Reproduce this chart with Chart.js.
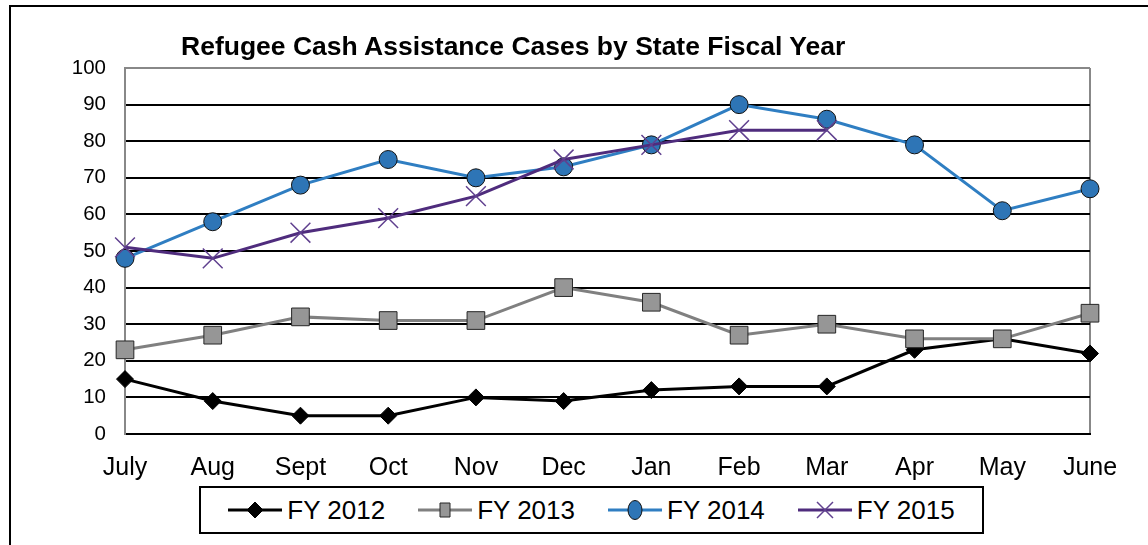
<!DOCTYPE html>
<html>
<head>
<meta charset="utf-8">
<script src="https://cdn.jsdelivr.net/npm/chart.js@4/dist/chart.umd.min.js"></script>
<style>
  html, body { margin: 0; padding: 0; background: #fff; overflow: hidden; }
  body { width: 1148px; height: 545px; position: relative; font-family: "Liberation Sans", Arial, sans-serif; }
  #frame { position: absolute; left: 9px; top: 5px; width: 1300px; height: 700px; border: 2px solid #000; box-sizing: border-box; }
  #c { position: absolute; left: 0; top: 0; }
  #title { position: absolute; left: 181px; top: 33px; font-weight: bold; font-size: 26.5px; line-height: 26px; white-space: nowrap; color: #000; }
  #legend { position: absolute; left: 199px; top: 486px; width: 785px; height: 48px; border: 2px solid #000; box-sizing: border-box; background: #fff;
            display: flex; align-items: center; justify-content: center; column-gap: 33px; }
  .item { display: flex; align-items: center; }
  .item canvas { display: block; margin-right: 5px; }
  .item span { font-size: 26px; line-height: 26px; white-space: nowrap; color: #000; }
</style>
</head>
<body>
<div id="frame"></div>
<canvas id="c" width="1148" height="545"></canvas>
<div id="title"></div>
<div id="legend"></div>
<script>
const titleText = "Refugee Cash Assistance Cases by State Fiscal Year";
const months = ["July", "Aug", "Sept", "Oct", "Nov", "Dec", "Jan", "Feb", "Mar", "Apr", "May", "June"];
const seriesNames = ["FY 2012", "FY 2013", "FY 2014", "FY 2015"];
const fy2012 = [15, 9, 5, 5, 10, 9, 12, 13, 13, 23, 26, 22];
const fy2013 = [23, 27, 32, 31, 31, 40, 36, 27, 30, 26, 26, 33];
const fy2014 = [48, 58, 68, 75, 70, 73, 79, 90, 86, 79, 61, 67];
const fy2015 = [51, 48, 55, 59, 65, 75, 79, 83, 83, null, null, null];
const yTicks = [0, 10, 20, 30, 40, 50, 60, 70, 80, 90, 100];

const styles = [
  { line: "#000000", fill: "#000000", stroke: "#000000", sw: 1, shape: "rectRot", r: 8.5, lw: 3 },
  { line: "#808080", fill: "#969696", stroke: "#262626", sw: 1, shape: "rect", r: 12.5, lw: 3 },
  { line: "#2F7EC2", fill: "#2E75B6", stroke: "#111111", sw: 1, shape: "circle", r: 9, lw: 3 },
  { line: "#4F2C7D", fill: "rgba(0,0,0,0)", stroke: "#60408F", sw: 1.5, shape: "crossRot", r: 14, lw: 3 }
];
const values = [fy2012, fy2013, fy2014, fy2015];

document.getElementById("title").textContent = titleText;

const GRAY = "#888888";

const datasets = values.map((v, i) => ({
  label: seriesNames[i],
  data: v,
  borderColor: styles[i].line,
  borderWidth: styles[i].lw,
  pointStyle: styles[i].shape,
  pointRadius: styles[i].r,
  pointHoverRadius: styles[i].r,
  pointBackgroundColor: styles[i].fill,
  pointBorderColor: styles[i].stroke,
  pointBorderWidth: styles[i].sw,
  tension: 0,
  fill: false,
  spanGaps: false,
  clip: false,
  order: 4 - i
}));

new Chart(document.getElementById("c"), {
  type: "line",
  data: { labels: months, datasets },
  options: {
    responsive: false,
    animation: false,
    devicePixelRatio: 1,
    layout: { padding: { left: 0, right: 58, top: 68, bottom: 0 } },
    plugins: { legend: { display: false }, title: { display: false }, tooltip: { enabled: false } },
    events: [],
    scales: {
      x: {
        type: "category",
        offset: false,
        afterFit: (s) => { s.height = 111; },
        grid: {
          drawTicks: false,
          lineWidth: 2,
          color: (ctx) => (ctx.index === months.length - 1 ? GRAY : "rgba(0,0,0,0)")
        },
        border: { display: true, color: "#000000", width: 2 },
        ticks: {
          padding: 19,
          maxRotation: 0,
          autoSkip: false,
          color: "#000",
          font: { family: "'Liberation Sans', Arial, sans-serif", size: 25 }
        }
      },
      y: {
        min: 0,
        max: 100,
        afterFit: (s) => { s.width = 125; },
        afterBuildTicks: (s) => { s.ticks = yTicks.map(v => ({ value: v })); },
        grid: {
          drawTicks: false,
          lineWidth: 2,
          color: (ctx) => (ctx.tick && ctx.tick.value === 100 ? GRAY : "#000000")
        },
        border: { display: true, color: GRAY, width: 2 },
        ticks: {
          padding: 19,
          color: "#000",
          font: { family: "'Liberation Sans', Arial, sans-serif", size: 20.5 }
        }
      }
    }
  }
});

// HTML legend built from series names and styles
const legend = document.getElementById("legend");
seriesNames.forEach((name, i) => {
  const st = styles[i];
  const item = document.createElement("div");
  item.className = "item";
  const cv = document.createElement("canvas");
  cv.width = 54; cv.height = 28;
  const g = cv.getContext("2d");
  const cx = 27, cy = 14;
  g.strokeStyle = st.line; g.lineWidth = st.lw;
  g.beginPath(); g.moveTo(0, cy); g.lineTo(54, cy); g.stroke();
  g.lineWidth = st.sw; g.strokeStyle = st.stroke; g.fillStyle = st.fill;
  g.beginPath();
  if (st.shape === "rectRot") {
    const rx = 8, ry = 8;
    g.moveTo(cx - rx, cy); g.lineTo(cx, cy - ry); g.lineTo(cx + rx, cy); g.lineTo(cx, cy + ry); g.closePath();
    g.fill(); g.stroke();
  } else if (st.shape === "rect") {
    g.rect(cx - 5, cy - 7, 10, 14);
    g.fill(); g.stroke();
  } else if (st.shape === "circle") {
    g.ellipse(cx, cy, 7, 9.5, 0, 0, Math.PI * 2);
    g.fill(); g.stroke();
  } else {
    const a = 8;
    g.moveTo(cx - a, cy - a); g.lineTo(cx + a, cy + a);
    g.moveTo(cx + a, cy - a); g.lineTo(cx - a, cy + a);
    g.stroke();
  }
  const sp = document.createElement("span");
  sp.textContent = name;
  item.appendChild(cv); item.appendChild(sp);
  legend.appendChild(item);
});
</script>
</body>
</html>
